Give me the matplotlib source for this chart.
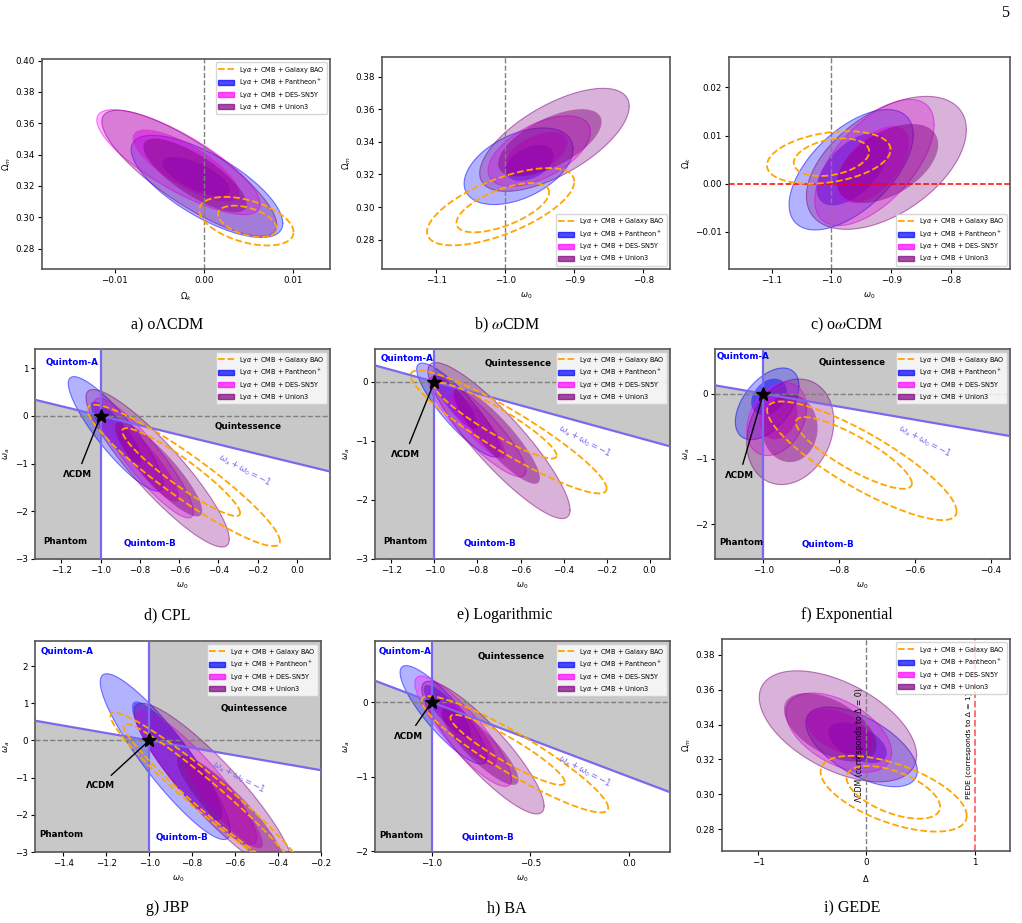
import numpy as np
import matplotlib
matplotlib.use('Agg')
import matplotlib.pyplot as plt
from matplotlib.lines import Line2D
from matplotlib.patches import Patch

# contours: (centre x, centre y, half width x, half width y, correlation), outer (95%) then inner (68%)
series = ['pantheon', 'des', 'union3']
labels = [r'Ly$\alpha$ + CMB + Galaxy BAO', r'Ly$\alpha$ + CMB + Pantheon$^+$',
          r'Ly$\alpha$ + CMB + DES-SN5Y', r'Ly$\alpha$ + CMB + Union3']

olcdm = {
    'pantheon': [(0.00036, 0.3197, 0.00853, 0.0326, -0.72), (-0.00085, 0.326, 0.0038, 0.0125, -0.68)],
    'des': [(-0.00285, 0.3352, 0.00919, 0.0335, -0.8), (-0.0020, 0.3330, 0.0060, 0.0230, -0.76)],
    'union3': [(-0.00163, 0.3281, 0.00984, 0.0402, -0.82), (-0.00098, 0.3267, 0.00581, 0.0235, -0.78)],
    'bao': [(0.0048, 0.2975, 0.0053, 0.0155, -0.45), (0.0049, 0.2974, 0.0033, 0.010, -0.45)],
}
wcdm = {
    'pantheon': [(-0.981, 0.325, 0.079, 0.0235, 0.45), (-0.965, 0.327, 0.035, 0.011, 0.4)],
    'des': [(-0.951, 0.3343, 0.0742, 0.0216, 0.55), (-0.955, 0.333, 0.045, 0.013, 0.5)],
    'union3': [(-0.929, 0.3412, 0.1084, 0.0316, 0.65), (-0.9357, 0.3394, 0.075, 0.0206, 0.62)],
    'bao': [(-1.007, 0.3002, 0.1067, 0.0237, 0.65), (-1.0039, 0.2996, 0.0672, 0.0151, 0.62)],
}
owcdm = {
    'pantheon': [(-0.967, 0.0029, 0.104, 0.0125, 0.58), (-0.965, 0.003, 0.06, 0.0075, 0.55)],
    'des': [(-0.928, 0.0044, 0.1, 0.0131, 0.6), (-0.93, 0.004, 0.06, 0.008, 0.55)],
    'union3': [(-0.908, 0.00433, 0.134, 0.0138, 0.5), (-0.906, 0.0042, 0.0847, 0.0082, 0.48)],
    'bao': [(-1.0045, 0.00545, 0.1035, 0.00545, 0.3), (-1.0, 0.0055, 0.0632, 0.0039, 0.3)],
}
cpl = {
    'pantheon': [(-0.923, -0.38, 0.242, 1.2, -0.88), (-0.92, -0.35, 0.13, 0.65, -0.86)],
    'des': [(-0.78, -0.885, 0.252, 1.255, -0.9), (-0.76, -1.0, 0.16, 0.8, -0.88)],
    'union3': [(-0.71, -1.10, 0.365, 1.65, -0.9), (-0.705, -1.113, 0.222, 0.994, -0.88)],
    'bao': [(-0.577, -1.25, 0.49, 1.48, -0.93), (-0.59, -1.18, 0.30, 0.92, -0.93)],
}
logarithmic = {
    'pantheon': [(-0.888, -0.48, 0.194, 0.795, -0.87), (-0.9, -0.35, 0.1, 0.45, -0.85)],
    'des': [(-0.80, -0.76, 0.225, 0.85, -0.88), (-0.80, -0.75, 0.13, 0.55, -0.86)],
    'union3': [(-0.70, -0.996, 0.33, 1.32, -0.89), (-0.71, -0.917, 0.20, 0.81, -0.88)],
    'bao': [(-0.655, -0.85, 0.455, 1.04, -0.92), (-0.715, -0.66, 0.283, 0.64, -0.92)],
}
exponential = {
    'pantheon': [(-0.99, -0.156, 0.084, 0.55, 0.5), (-0.985, -0.05, 0.047, 0.28, 0.3)],
    'des': [(-0.965, -0.39, 0.079, 0.56, 0.3), (-0.96, -0.35, 0.05, 0.35, 0.2)],
    'union3': [(-0.929, -0.585, 0.115, 0.81, 0.2), (-0.93, -0.53, 0.073, 0.52, 0.0)],
    'bao': [(-0.74, -1.03, 0.25, 0.91, -0.85), (-0.761, -0.91, 0.153, 0.55, -0.85)],
}
jbp = {
    'pantheon': [(-0.925, -0.435, 0.303, 2.23, -0.9), (-0.87, -0.55, 0.21, 1.6, -0.9)],
    'des': [(-0.78, -1.0, 0.28, 1.8, -0.9), (-0.65, -1.7, 0.18, 1.2, -0.9)],
    'union3': [(-0.70, -1.3, 0.37, 2.3, -0.9), (-0.62, -1.9, 0.25, 1.5, -0.9)],
    'bao': [(-0.72, -1.5, 0.46, 2.25, -0.96), (-0.72, -1.55, 0.40, 2.0, -0.97)],
}
ba = {
    'pantheon': [(-0.94, -0.17, 0.22, 0.66, -0.86), (-0.92, -0.12, 0.12, 0.35, -0.84)],
    'des': [(-0.84, -0.39, 0.245, 0.74, -0.87), (-0.82, -0.4, 0.15, 0.45, -0.85)],
    'union3': [(-0.74, -0.61, 0.31, 0.89, -0.88), (-0.755, -0.59, 0.195, 0.52, -0.86)],
    'bao': [(-0.578, -0.70, 0.473, 0.78, -0.92), (-0.615, -0.64, 0.29, 0.47, -0.92)],
}
gede = {
    'pantheon': [(-0.043, 0.3272, 0.515, 0.0228, -0.6), (-0.08, 0.3296, 0.27, 0.0116, -0.5)],
    'des': [(-0.254, 0.3354, 0.488, 0.0227, -0.5), (-0.25, 0.336, 0.3, 0.013, -0.45)],
    'union3': [(-0.262, 0.339, 0.727, 0.0318, -0.52), (-0.333, 0.3384, 0.428, 0.0196, -0.52)],
    'bao': [(0.253, 0.3004, 0.675, 0.0217, -0.58), (0.25, 0.3012, 0.432, 0.0151, -0.55)],
}

# axis limits and ticks
xlims = [(-0.0182, 0.0142), (-1.179, -0.7615), (-1.1716, -0.701),
         (-1.3345, 0.168), (-1.2755, 0.094), (-1.1276, -0.349),
         (-1.5316, -0.2), (-1.287, 0.208), (-1.333, 1.328)]
ylims = [(0.267, 0.401), (0.262, 0.392), (-0.0177, 0.0263),
         (-3.0, 1.398), (-3.0, 0.553), (-2.537, 0.685),
         (-3.0, 2.675), (-2.01, 0.82), (0.2676, 0.389)]
xticks = [[-0.01, 0.0, 0.01], [-1.1, -1.0, -0.9, -0.8], [-1.1, -1.0, -0.9, -0.8],
          [-1.2, -1.0, -0.8, -0.6, -0.4, -0.2, 0.0], [-1.2, -1.0, -0.8, -0.6, -0.4, -0.2, 0.0],
          [-1.0, -0.8, -0.6, -0.4], [-1.4, -1.2, -1.0, -0.8, -0.6, -0.4, -0.2],
          [-1.0, -0.5, 0.0], [-1, 0, 1]]
yticks = [[0.28, 0.30, 0.32, 0.34, 0.36, 0.38, 0.40], [0.28, 0.30, 0.32, 0.34, 0.36, 0.38],
          [-0.01, 0.0, 0.01, 0.02], [-3, -2, -1, 0, 1], [-3, -2, -1, 0], [-2, -1, 0],
          [-3, -2, -1, 0, 1, 2], [-2, -1, 0], [0.28, 0.30, 0.32, 0.34, 0.36, 0.38]]
xlabels = [r'$\Omega_k$', r'$\omega_0$', r'$\omega_0$', r'$\omega_0$', r'$\omega_0$',
           r'$\omega_0$', r'$\omega_0$', r'$\omega_0$', r'$\Delta$']
ylabels = [r'$\Omega_m$', r'$\Omega_m$', r'$\Omega_k$', r'$\omega_a$', r'$\omega_a$',
           r'$\omega_a$', r'$\omega_a$', r'$\omega_a$', r'$\Omega_m$']
captions = [u'a) o\u039bCDM', r'b) $\omega$CDM', r'c) o$\omega$CDM', 'd) CPL', 'e) Logarithmic',
            'f) Exponential', 'g) JBP', 'h) BA', 'i) GEDE']
panels = [olcdm, wcdm, owcdm, cpl, logarithmic, exponential, jbp, ba, gede]

# axes boxes in pixels (left, top, right, bottom) and caption centres
W, H = 1022, 923
boxes = [(42, 59, 330, 269), (382, 57, 670, 269), (729, 57, 1010, 269),
         (35, 349, 330, 559), (375, 349, 670, 559), (715, 349, 1010, 559),
         (35, 641, 321, 852), (375, 641, 670, 852), (722, 639, 1010, 851)]
cap_pos = [(167, 325), (507, 325), (847, 325), (167, 615), (505, 615), (847, 615),
           (167, 908), (507, 908), (852, 908)]
legend_loc = ['upper right', 'lower right', 'lower right'] + ['upper right'] * 6

# region label positions for w0-wa panels (Quintom-A, Quintessence, Phantom, Quintom-B, LCDM text, line label)
region_pos = {
    3: [(-1.148, 1.117), (-0.248, -0.223), (-1.178, -2.63), (-0.749, -2.68), (-1.119, -1.235), (-0.265, -1.13)],
    4: [(-1.128, 0.389), (-0.613, 0.316), (-1.133, -2.70), (-0.741, -2.74), (-1.136, -1.235), (-0.30, -1.01)],
    5: [(-1.0545, 0.563), (-0.767, 0.481), (-1.057, -2.281), (-0.830, -2.317), (-1.063, -1.258), (-0.573, -0.73)],
    6: [(-1.384, 2.406), (-0.51, 0.87), (-1.407, -2.54), (-0.848, -2.60), (-1.228, -1.21), (-0.583, -0.99)],
    7: [(-1.135, 0.685), (-0.595, 0.617), (-1.152, -1.79), (-0.716, -1.82), (-1.118, -0.456), (-0.223, -0.926)],
}

colors = {'pantheon': 'blue', 'des': 'magenta', 'union3': 'purple'}
bao_color = 'orange'
line_color = 'mediumslateblue'
shade = '#c8c8c8'


def ellipse(cx, cy, sx, sy, rho):
    t = np.linspace(0, 2 * np.pi, 300)
    x = cx + sx * np.cos(t)
    y = cy + sy * (rho * np.cos(t) + np.sqrt(1 - rho ** 2) * np.sin(t))
    return x, y


fig = plt.figure(figsize=(W / 100, H / 100), dpi=100)

for i, data in enumerate(panels):
    l, t, r, b = boxes[i]
    ax = fig.add_axes([l / W, 1 - b / H, (r - l) / W, (b - t) / H])
    x0, x1 = xlims[i]
    y0, y1 = ylims[i]
    wplane = i in region_pos

    if wplane:
        # w0-wa plane regions: quintessence and phantom
        xq = np.array([-1.0, x1])
        ax.fill_between(xq, -1 - xq, y1, color=shade, zorder=0, lw=0)
        xp = np.array([x0, -1.0])
        ax.fill_between(xp, y0, -1 - xp, color=shade, zorder=0, lw=0)

    for s in series:
        outer, inner = data[s]
        x, y = ellipse(*outer)
        ax.fill(x, y, color=colors[s], alpha=0.3, lw=0, zorder=1)
        ax.plot(x, y, color=colors[s], alpha=0.5, lw=0.8, zorder=1)
        x, y = ellipse(*inner)
        ax.fill(x, y, color=colors[s], alpha=0.45, lw=0, zorder=1)
    for c in data['bao']:
        x, y = ellipse(*c)
        ax.plot(x, y, color=bao_color, ls='--', lw=1.3, zorder=4)

    if i == 0:
        ax.axvline(0, color='gray', ls='--', lw=1)
    elif i in (1, 2):
        ax.axvline(-1, color='gray', ls='--', lw=1)
        if i == 2:
            ax.axhline(0, color='red', ls='--', lw=1.1)
    elif i == 8:
        ax.axvline(0, color='gray', ls='--', lw=1)
        ax.axvline(1, color='red', ls='--', lw=1.3, alpha=0.6)
        ax.text(-0.02, 0.328, u'\u039bCDM (corresponds to \u0394 = 0)', rotation=90,
                ha='right', va='center', fontsize=5.6)
        ax.text(0.98, 0.328, u'PEDE (corresponds to \u0394 = 1)', rotation=90,
                ha='right', va='center', fontsize=5.4)
    else:
        xs = np.array([x0, x1])
        ax.plot(xs, -1 - xs, color=line_color, lw=1.6, zorder=3)
        ax.axvline(-1, color=line_color, lw=1.6, zorder=3)
        ax.axhline(0, color='gray', ls='--', lw=1, zorder=3)
        p = region_pos[i]
        ax.text(*p[0], 'Quintom-A', color='blue', fontweight='bold', fontsize=6.3, ha='center', va='center')
        ax.text(*p[1], 'Quintessence', color='black', fontweight='bold', fontsize=6.3, ha='center', va='center')
        ax.text(*p[2], 'Phantom', color='black', fontweight='bold', fontsize=6.3, ha='center', va='center')
        ax.text(*p[3], 'Quintom-B', color='blue', fontweight='bold', fontsize=6.3, ha='center', va='center')
        ax.text(*p[5], r'$\omega_a + \omega_0 = -1$', color=line_color, fontsize=6.3, rotation=-28,
                ha='center', va='center', zorder=5)
        ax.plot(-1, 0, marker='*', color='black', ms=10, zorder=6)
        ax.annotate(u'\u039bCDM', xy=(-1, 0), xytext=p[4], fontsize=6.3, fontweight='bold',
                    ha='center', va='center', zorder=6,
                    arrowprops=dict(arrowstyle='-', color='black', lw=1, shrinkA=3, shrinkB=0))

    ax.set_xlim(x0, x1)
    ax.set_ylim(y0, y1)
    ax.set_xticks(xticks[i])
    ax.set_yticks(yticks[i])
    ax.tick_params(labelsize=6.3, length=3, width=0.8, pad=2)
    ax.set_xlabel(xlabels[i], fontsize=6, labelpad=4)
    ax.set_ylabel(ylabels[i], fontsize=6, labelpad=2)
    for sp in ax.spines.values():
        sp.set_color('#555555')
        sp.set_linewidth(1.2)

    handles = [Line2D([0], [0], color=bao_color, ls='--', lw=1.3)]
    handles += [Patch(color=colors[s], alpha=0.7) for s in series]
    ax.legend(handles, labels, loc=legend_loc[i], fontsize=4.7, framealpha=0.8,
              handlelength=2.4, handleheight=0.8, borderpad=0.35, labelspacing=0.3)

    fig.text(cap_pos[i][0] / W, 1 - cap_pos[i][1] / H, captions[i], ha='center', va='center',
             fontsize=11.5, family='Liberation Serif', math_fontfamily='stix')

fig.text(1005 / W, 1 - 13 / H, '5', ha='center', va='center', fontsize=11.5, family='Liberation Serif')

fig.savefig('out.png', dpi=100)
